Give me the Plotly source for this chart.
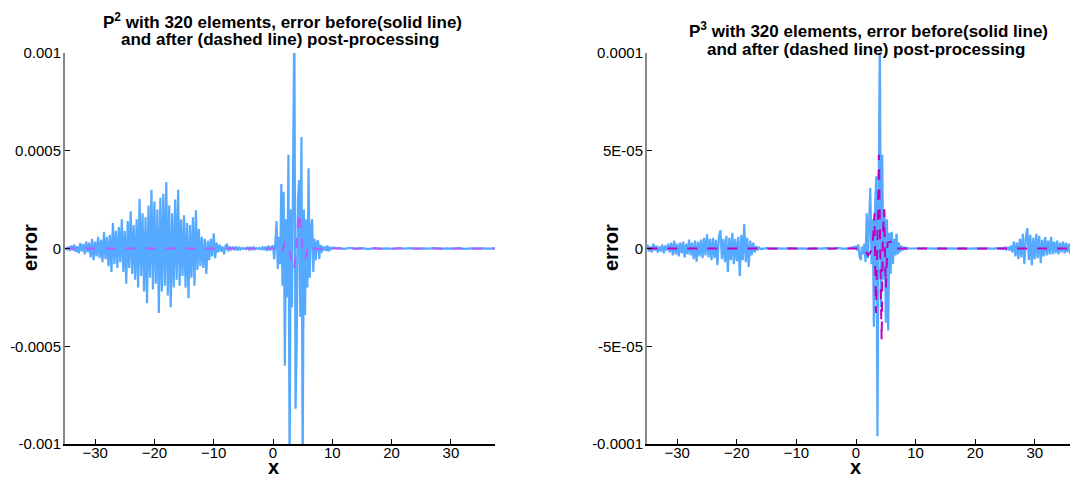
import numpy as np
import plotly.graph_objects as go

# ---------------- P2 (left) : values in units of 1e-4 ----------------
p2_unit = 1e-4
# solid line (error before post-processing), piecewise sampled segments
p2_seg_a_range = (-35.0, -8.0)
p2_seg_a = [0.05, -0.08, 0.10, -0.12, 0.15, -0.10, 0.20, -0.18, 0.12, -0.25, 0.28, -0.15,
            0.22, -0.30, 0.35, -0.20, 0.30, -0.45, 0.50, -0.60, 0.35, -0.40, 0.60, -0.50,
            0.45, -0.70, 0.85, -0.55, 0.60, -0.90, 0.70, -1.20, 1.30, -0.80, 0.90, -1.00,
            1.10, -0.70, 1.50, -1.20, 0.90, -1.80, 1.40, -1.00, 1.90, -1.30, 1.20, -1.60,
            1.50, -2.00, 2.55, -1.40, 1.80, -2.20, 1.60, -2.80, 2.20, -1.50, 3.00, -2.10,
            2.40, -1.80, 2.00, -3.30, 2.60, -2.20, 2.80, -1.90, 3.40, -2.40, 2.20, -3.00,
            1.80, -2.00, 2.50, -1.60, 3.00, -1.90, 1.50, -1.40, 1.70, -2.00, 1.30, -2.55,
            1.20, -1.50, 1.60, -1.90, 1.95, -1.10, 1.00, -0.90, 0.60, -1.00, 0.50, -1.30,
            0.40, -0.60, 0.50, -0.40, 0.77, -0.50, 0.30, -0.20, 0.20, -0.15, 0.10, -0.30,
            0.15]
p2_seg_b_range = (-7.75, -0.25)
p2_seg_b = [0.20, -0.15, 0.10, -0.05, 0.05, -0.08, 0.10, -0.10, 0.08, -0.05, 0.03, -0.02,
            0.02, -0.03, 0.05, -0.06, 0.08, -0.08, 0.06, -0.04, 0.02, -0.02, 0.03, -0.04,
            0.06, -0.08, 0.10, -0.12, 0.15, -0.10, 0.08]
p2_seg_c_range = (0.0, 10.0)
p2_seg_c = [0.15, -0.55, 0.30, 1.40, -1.05, 0.60, -0.80, 3.30, -1.90, 2.90, -6.00, 1.50,
            -2.50, 4.80, -11.5, 2.00, -3.00, 6.00, 12.0, -8.20, -4.90, 2.50, 3.50, -3.50,
            5.70, -11.5, 2.00, -3.40, 1.50, -2.00, 4.10, -1.50, 1.00, 1.50, -1.20, 0.50,
            -0.60, 0.30, 0.42, -0.55, 0.20, -0.20, 0.10, -0.10, 0.10, -0.12, 0.15, -0.15,
            0.08, -0.06, 0.04]
p2_seg_d_range = (11.0, 37.4)
p2_seg_d = [0.02, -0.02, 0.03, -0.02, 0.02, -0.03, 0.02, -0.02, 0.01, -0.02, 0.02, -0.01,
            0.02, -0.02, 0.01, -0.01, 0.02, -0.02, 0.01, -0.01, 0.02, -0.02, 0.01, -0.01,
            0.01, -0.01, 0.01]
# dashed line (error after post-processing)
p2_post_x = [-35.0, -20.0, -10.0, 0.0, 1.0, 1.5, 1.8, 2.1, 2.5, 2.9, 3.2, 3.5, 3.8, 4.1,
             4.4, 4.7, 5.0, 5.3, 5.6, 6.0, 6.4, 7.0, 10.0, 20.0, 37.4]
p2_post_y = [0.0, 0.0, 0.0, 0.0, 0.0, -0.2, 0.1, 0.35, 0.1, -0.3, -0.7, -1.05, -0.3, 0.8,
             1.8, 1.0, 0.0, -0.5, -0.35, 0.2, 0.15, 0.0, 0.0, 0.0, 0.0]

# ---------------- P3 (right) : values in units of 1e-5 ----------------
p3_unit = 1e-5
p3_seg_a_range = (-35.0, -16.0)
p3_seg_a = [0.20, -0.15, 0.10, -0.20, 0.25, -0.10, 0.15, -0.20, 0.10, -0.15, 0.20, -0.25,
            0.15, -0.10, 0.25, -0.20, 0.30, -0.35, 0.40, -0.30, 0.25, -0.40, 0.30, -0.25,
            0.35, -0.45, 0.25, -0.30, 0.46, -0.35, 0.30, -0.55, 0.40, -0.68, 0.35, -0.40,
            0.45, -0.50, 0.55, -0.35, 0.73, -0.45, 0.50, -0.60, 0.55, -0.50, 0.45, -0.85,
            0.60, 0.94, -0.55, 0.50, -0.70, 0.65, -1.20, 0.55, -0.60, 0.80, -0.80, 0.50,
            -0.65, 0.60, -1.40, 0.70, -0.60, 1.25, -0.70, 0.55, -0.94, 0.40, -0.35, 0.30,
            -0.20, 0.12, -0.08, 0.05, -0.03]
p3_seg_b_range = (-15.0, -1.0)
p3_seg_b = [0.02, -0.02, 0.01, -0.01, 0.02, -0.01, 0.01, -0.02, 0.01, -0.01, 0.02, -0.02,
            0.03, -0.02, 0.02]
p3_seg_c_range = (0.0, 9.0)
p3_seg_c = [0.10, -0.10, 0.20, -0.40, -0.60, 0.10, -0.30, 0.25, -0.70, 1.80, -0.50, 1.20,
            3.10, -0.80, 1.50, -4.00, 2.10, 3.70, -9.60, 2.50, 11.0, -3.00, 4.80, -1.60,
            2.00, -3.80, 1.50, -4.20, 0.80, -1.30, 0.85, -0.80, 0.50, -0.35, 0.77, -0.30,
            0.30, -0.20, 0.15, -0.10, 0.08, -0.05, 0.04, -0.03, 0.02, 0.00]
p3_seg_d_range = (10.0, 23.0)
p3_seg_d = [0.01, -0.01, 0.01, -0.01, 0.01, -0.01, 0.01, -0.01, 0.01, -0.01, 0.01, -0.01,
            0.01, -0.01]
p3_seg_e_range = (24.0, 37.25)
p3_seg_e = [0.02, -0.02, 0.03, -0.03, 0.05, -0.05, 0.08, -0.10, 0.15, -0.20, 0.35, -0.40,
            0.30, -0.55, 0.50, -0.45, 0.75, -0.80, 0.55, 1.04, -0.60, 0.70, -0.85, 0.55,
            -0.55, 0.75, -0.50, 0.65, -0.75, 0.45, -0.40, 0.58, -0.35, 0.40, -0.30, 0.60,
            -0.30, 0.35, -0.25, 0.40, -0.30, 0.30, -0.20, 0.35, -0.25, 0.30, -0.20, 0.25,
            -0.30, 0.35, -0.25, 0.30, -0.20, 0.25]
p3_post_x = [-35.0, -20.0, 0.0, 1.0, 1.6, 2.0, 2.4, 2.8, 3.1, 3.35, 3.6, 3.85, 4.1, 4.3,
             4.5, 4.7, 5.0, 5.3, 5.8, 6.2, 7.0, 20.0, 37.3]
p3_post_y = [0.0, 0.0, 0.0, 0.0, -0.1, -0.35, -0.2, 0.2, 1.8, -3.3, 0.5, 4.8, -1.0, -4.7,
             0.5, 2.0, -2.0, 0.3, 0.35, 0.0, 0.0, 0.0, 0.0]

x_ticks = [-30, -20, -10, 0, 10, 20, 30]
p2_yticks = [0.001, 0.0005, 0, -0.0005, -0.001]
p2_yticktext = ["0.001", "0.0005", "0", "-0.0005", "-0.001"]
p3_yticks = [0.0001, 0.00005, 0, -0.00005, -0.0001]
p3_yticktext = ["0.0001", "5E-05", "0", "-5E-05", "-0.0001"]


def build(segments, unit):
    xs, ys = [], []
    for (a, b), vals in segments:
        xs.extend(np.linspace(a, b, len(vals)).tolist())
        ys.extend([v * unit for v in vals])
    return xs, ys


p2_x, p2_y = build([(p2_seg_a_range, p2_seg_a), (p2_seg_b_range, p2_seg_b),
                    (p2_seg_c_range, p2_seg_c), (p2_seg_d_range, p2_seg_d)], p2_unit)
p3_x, p3_y = build([(p3_seg_a_range, p3_seg_a), (p3_seg_b_range, p3_seg_b),
                    (p3_seg_c_range, p3_seg_c), (p3_seg_d_range, p3_seg_d),
                    (p3_seg_e_range, p3_seg_e)], p3_unit)

BLUE = "#55aaff"
FONT = "Liberation Sans, Arial, Helvetica, sans-serif"

fig = go.Figure()
fig.add_trace(go.Scatter(x=p2_x, y=p2_y, mode="lines", line=dict(color=BLUE, width=2.2),
                         xaxis="x", yaxis="y", showlegend=False))
fig.add_trace(go.Scatter(x=p2_post_x, y=[v * p2_unit for v in p2_post_y], mode="lines",
                         line=dict(color="#b35cff", width=2, dash="10px,10px", shape="spline"),
                         xaxis="x", yaxis="y", showlegend=False))
fig.add_trace(go.Scatter(x=p3_x, y=p3_y, mode="lines", line=dict(color=BLUE, width=2.2),
                         xaxis="x2", yaxis="y2", showlegend=False))
fig.add_trace(go.Scatter(x=p3_post_x, y=[v * p3_unit for v in p3_post_y], mode="lines",
                         line=dict(color="#c000c0", width=2, dash="10px,10px"),
                         xaxis="x2", yaxis="y2", showlegend=False))

W, H = 1078, 477
OFF = 8  # page offset of the plot div inside the browser window


def px(v):
    return (v - OFF) / W


def py(v):
    return 1 - (v - OFF) / H


y_dom = [py(444), py(53)]

xaxis_common = dict(showline=True, linecolor="black", linewidth=1.5, ticks="inside",
                    ticklen=5, tickcolor="black", tickvals=x_ticks, showgrid=False,
                    zeroline=False, automargin=False, ticklabelstandoff=-6,
                    tickfont=dict(family=FONT, size=15, color="black"))
yaxis_common = dict(showline=True, linecolor="#888888", linewidth=2, ticks="inside",
                    ticklen=5, tickcolor="black", showgrid=False, zeroline=False,
                    automargin=False, ticklabelstandoff=-1,
                    tickfont=dict(family=FONT, size=15, color="black"), domain=y_dom)

fig.update_layout(
    template="none",
    width=W, height=H, margin=dict(l=0, r=0, t=0, b=0, autoexpand=False),
    paper_bgcolor="white", plot_bgcolor="white",
    xaxis=dict(**xaxis_common, domain=[px(65), px(495)], range=[-35.08, 37.44], anchor="y"),
    yaxis=dict(**yaxis_common, range=[-0.001, 0.001], tickvals=p2_yticks,
               ticktext=p2_yticktext, anchor="x"),
    xaxis2=dict(**xaxis_common, domain=[px(647), px(1078)], range=[-35.07, 37.25], anchor="y2"),
    yaxis2=dict(**yaxis_common, range=[-0.0001, 0.0001], tickvals=p3_yticks,
                ticktext=p3_yticktext, anchor="x2"),
)

ann = []
title_font = dict(family=FONT, size=17, color="black")
ann.append(dict(text="<b>P<sup>2</sup> with 320 elements, error before(solid line)</b>",
                x=px(282), y=py(21)))
ann.append(dict(text="<b>and after (dashed line) post-processing</b>", x=px(280), y=py(39)))
ann.append(dict(text="<b>P<sup>3</sup> with 320 elements, error before(solid line)</b>",
                x=px(868), y=py(30)))
ann.append(dict(text="<b>and after (dashed line) post-processing</b>", x=px(866), y=py(49)))
for a in ann:
    a.update(font=title_font)
axis_font = dict(family=FONT, size=20, color="black")
for xc in (273, 856):
    ann.append(dict(text="<b>x</b>", x=px(xc), y=py(467), font=axis_font))
for xc in (30, 611):
    ann.append(dict(text="<b>error</b>", x=px(xc), y=py(248), font=axis_font, textangle=-90))
for a in ann:
    a.update(xref="paper", yref="paper", showarrow=False, xanchor="center", yanchor="middle")
fig.update_layout(annotations=ann)

fig.write_html("out.html")
